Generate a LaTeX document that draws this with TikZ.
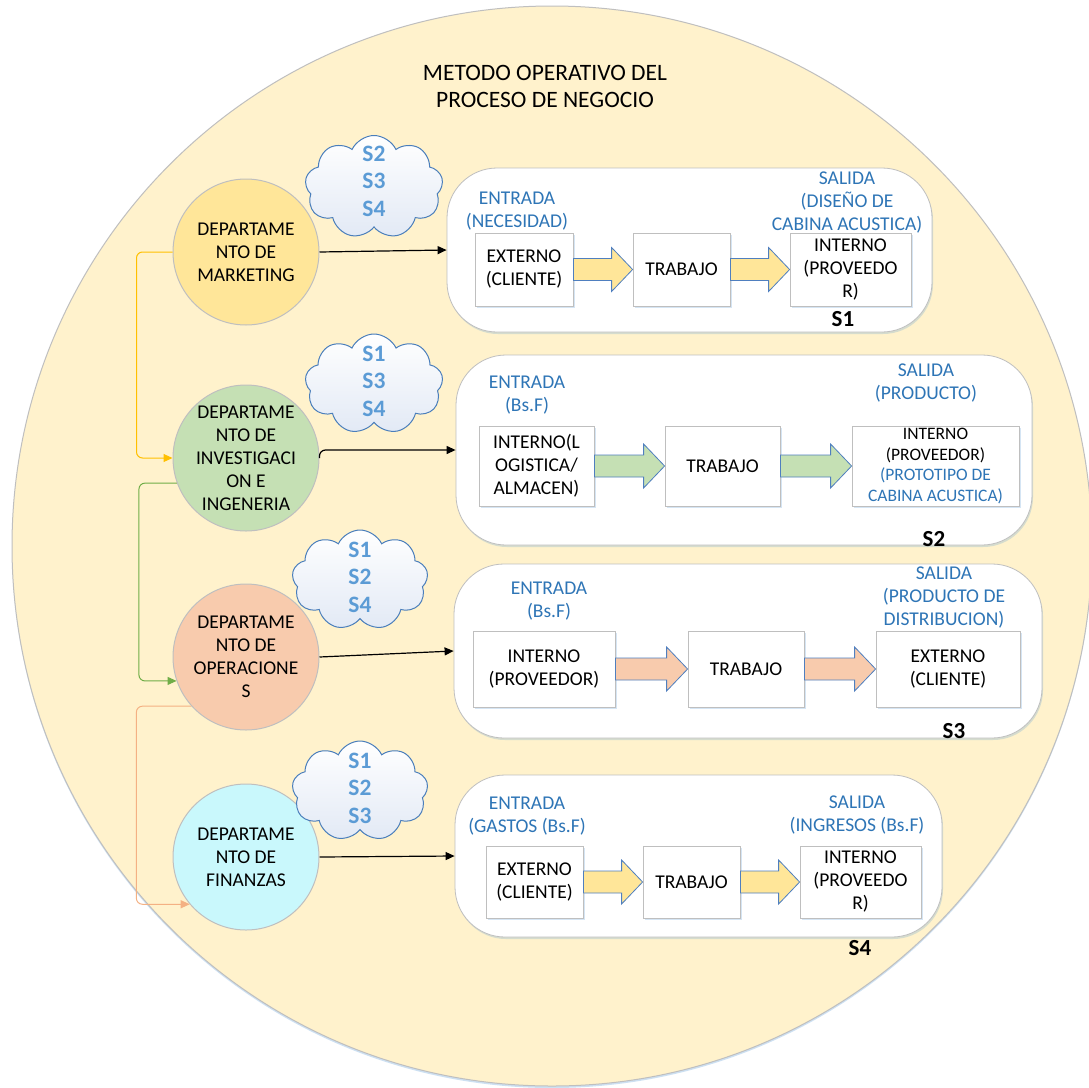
\documentclass[tikz,border=0pt]{standalone}
\usepackage{fontspec}
\setmainfont{Carlito}
\usepackage{tikz}
\usetikzlibrary{arrows.meta,positioning,shapes.symbols,shadows,calc}
\definecolor{bgyellow}{HTML}{FFF2CC}
\definecolor{mkfill}{HTML}{FFE699}
\definecolor{invfill}{HTML}{C5E0B4}
\definecolor{opfill}{HTML}{F8CBAD}
\definecolor{finfill}{HTML}{C9F8FC}
\definecolor{lblue}{HTML}{2E75B6}
\definecolor{cloudblue}{HTML}{5B9BD5}
\definecolor{cloudedge}{HTML}{4A7EBB}
\definecolor{cloudfill}{HTML}{E2E9F5}
\definecolor{edgegrey}{HTML}{BFBFBF}
\definecolor{arrowedge}{HTML}{4F7FBF}
\definecolor{mkline}{HTML}{FFC000}
\definecolor{invline}{HTML}{70AD47}
\definecolor{opline}{HTML}{F4B183}

% fat arrow between two step boxes: from, to, fill
\newcommand{\blockarrow}[3]{%
  \draw[arrowedge, line width=0.8pt, fill=#3] let \p1=(#1.east), \p2=(#2.west) in
    (\x1,\y1+11pt) -- (\x2-21pt,\y1+11pt) -- (\x2-21pt,\y1+22pt) -- (\x2,\y1)
    -- (\x2-21pt,\y1-22pt) -- (\x2-21pt,\y1-11pt) -- (\x1,\y1-11pt) -- cycle;}

\begin{document}
\begin{tikzpicture}[x=1pt,y=-1pt,>={Triangle[length=9pt,width=8pt]},
  txt/.style={font=\fontsize{19.5}{23}\selectfont, align=center},
  dept/.style={circle, draw=edgegrey, line width=1pt, minimum size=146pt, inner sep=0pt, txt},
  panel/.style={draw=edgegrey, fill=white, rounded corners=50pt, line width=0.8pt,
    drop shadow={shadow xshift=1pt, shadow yshift=-2pt, fill=cloudblue, opacity=0.25}},
  stepbox/.style={draw=edgegrey, fill=white, line width=0.8pt, inner sep=0pt, txt,
    drop shadow={shadow xshift=1.5pt, shadow yshift=-2pt, fill=cloudblue, opacity=0.25}},
  lbl/.style={txt, text=lblue},
  slbl/.style={font=\fontsize{23}{25}\selectfont\bfseries},
  cloudy/.style={cloud, cloud puffs=9, cloud puff arc=130, cloud ignores aspect, draw=cloudedge,
    line width=1pt, top color=white, bottom color=cloudfill, inner sep=0pt},
  cloudtxt/.style={font=\fontsize{23.5}{27.5}\selectfont\bfseries, text=cloudblue, align=center},
  conn/.style={->, line width=1.2pt, rounded corners=6pt}]
  \useasboundingbox (0,0) rectangle (1089,1087);
  \fill[white] (0,0) rectangle (1089,1087);
  % big background circle
  \draw[edgegrey, fill=bgyellow, line width=1pt,
    drop shadow={shadow xshift=0pt, shadow yshift=-2pt, fill=cloudblue, opacity=0.3}] (552,546) circle (540pt);
  \node[font=\fontsize{23.5}{27}\selectfont, align=center] (title) at (545,86.5) {METODO OPERATIVO DEL\\PROCESO DE NEGOCIO};

  % departments
  \node[dept, fill=mkfill] (dmk) at (246,252) {DEPARTAME\\NTO DE\\MARKETING};
  \node[dept, fill=invfill] (dinv) at (246,458) {DEPARTAME\\NTO DE\\INVESTIGACI\\ON E\\INGENERIA};
  \node[dept, fill=opfill] (dop) at (246,657) {DEPARTAME\\NTO DE\\OPERACIONE\\S};
  \node[dept, fill=finfill] (dfin) at (246,857) {DEPARTAME\\NTO DE\\FINANZAS};

  % clouds
  \node[cloudy, minimum width=138pt, minimum height=103pt] (c1) at (374,187) {};
  \node[cloudtxt] (c1t) at (374,181) {S2\\S3\\S4};
  \node[cloudy, minimum width=138pt, minimum height=100pt] (c2) at (374,384) {};
  \node[cloudtxt] (c2t) at (374,381) {S1\\S3\\S4};
  \node[cloudy, minimum width=136pt, minimum height=100pt] (c3) at (360,580) {};
  \node[cloudtxt] (c3t) at (360,577) {S1\\S2\\S4};
  \node[cloudy, minimum width=136pt, minimum height=100pt] (c4) at (360,791) {};
  \node[cloudtxt] (c4t) at (360,788) {S1\\S2\\S3};

  % S1
  \node[panel, minimum width=485pt, minimum height=164pt] (p1) at (689.5,250) {};
  \node[stepbox, minimum width=98pt, minimum height=73pt] (p1in) at (524,269.5) {EXTERNO\\(CLIENTE)};
  \node[stepbox, minimum width=97pt, minimum height=73pt] (p1work) at (681.5,269.5) {TRABAJO};
  \node[stepbox, minimum width=121pt, minimum height=73pt] (p1out) at (850.5,269.5) {INTERNO\\(PROVEEDO\\R)};
  \blockarrow{p1in}{p1work}{mkfill}
  \blockarrow{p1work}{p1out}{mkfill}
  \node[lbl] (p1e) at (517,211.5) {ENTRADA\\(NECESIDAD)};
  \node[lbl] (p1s) at (847,202.5) {SALIDA\\(DISEÑO DE\\CABINA ACUSTICA)};
  \node[slbl] (s1) at (843,319) {S1};

  % S2
  \node[panel, minimum width=576pt, minimum height=190pt] (p2) at (744,450) {};
  \node[stepbox, minimum width=115pt, minimum height=80pt] (p2in) at (536.5,466) {INTERNO(L\\OGISTICA/\\ALMACEN)};
  \node[stepbox, minimum width=115pt, minimum height=80pt] (p2work) at (722.5,466) {TRABAJO};
  \node[stepbox, minimum width=167pt, minimum height=80pt, font=\fontsize{17.5}{20.5}\selectfont] (p2out) at (935.5,466)
    {INTERNO\\(PROVEEDOR)\\\textcolor{lblue}{(PROTOTIPO DE}\\\textcolor{lblue}{CABINA ACUSTICA)}};
  \blockarrow{p2in}{p2work}{invfill}
  \blockarrow{p2work}{p2out}{invfill}
  \node[lbl] (p2e) at (527,395) {ENTRADA\\(Bs.F)};
  \node[lbl] (p2s) at (926,383.5) {SALIDA\\(PRODUCTO)};
  \node[slbl] (s2) at (934,539) {S2};

  % S3
  \node[panel, minimum width=588pt, minimum height=174pt] (p3) at (748,651) {};
  \node[stepbox, minimum width=142pt, minimum height=76pt] (p3in) at (544,669) {INTERNO\\(PROVEEDOR)};
  \node[stepbox, minimum width=116pt, minimum height=76pt] (p3work) at (746,669) {TRABAJO};
  \node[stepbox, minimum width=144pt, minimum height=76pt] (p3out) at (948,669) {EXTERNO\\(CLIENTE)};
  \blockarrow{p3in}{p3work}{opfill}
  \blockarrow{p3work}{p3out}{opfill}
  \node[lbl] (p3e) at (549,601.5) {ENTRADA\\(Bs.F)};
  \node[lbl] (p3s) at (944,598) {SALIDA\\(PRODUCTO DE\\DISTRIBUCION)};
  \node[slbl] (s3) at (954,731) {S3};

  % S4
  \node[panel, minimum width=487pt, minimum height=162pt] (p4) at (698.5,856) {};
  \node[stepbox, minimum width=97pt, minimum height=72pt] (p4in) at (534.5,882) {EXTERNO\\(CLIENTE)};
  \node[stepbox, minimum width=97pt, minimum height=72pt] (p4work) at (691.5,882) {TRABAJO};
  \node[stepbox, minimum width=121pt, minimum height=72pt] (p4out) at (860.5,882) {INTERNO\\(PROVEEDO\\R)};
  \blockarrow{p4in}{p4work}{mkfill}
  \blockarrow{p4work}{p4out}{mkfill}
  \node[lbl] (p4e) at (527,816.5) {ENTRADA\\(GASTOS (Bs.F)};
  \node[lbl] (p4s) at (857,815) {SALIDA\\(INGRESOS (Bs.F)};
  \node[slbl] (s4) at (860,948) {S4};

  % department -> process
  \draw[conn] (dmk.east) -- (p1.west);
  \draw[conn] (dinv.east) |- (p2.west);
  \draw[conn] (dop.east) -- (p3.west);
  \draw[conn] (dfin.east) -- (p4.west);
  % department -> department
  \draw[conn, mkline, line width=1pt] (dmk.west) -- ++(-36,0) |- (dinv.west);
  \draw[conn, invline, line width=1pt] (dinv.200) -- ++(-38,0) |- (dop.199);
  \draw[conn, opline, line width=1pt] (dop.222) -- ++(-55,0) |- (dfin.220);
\end{tikzpicture}
\end{document}
